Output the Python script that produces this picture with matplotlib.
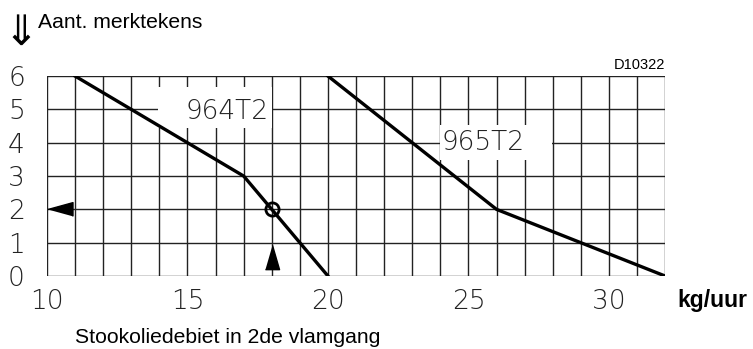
import matplotlib.pyplot as plt
from matplotlib.patches import Rectangle

# Data
x_964 = [11, 17, 20]
y_964 = [6, 3, 0]
x_965 = [20, 26, 32]
y_965 = [6, 2, 0]
x_ticks = [10, 15, 20, 25, 30]
y_ticks = [0, 1, 2, 3, 4, 5, 6]
op_x, op_y = 18, 2

fig = plt.figure(figsize=(7.53, 3.49), dpi=100)
ax = fig.add_axes([0.0624, 0.209, 0.821, 0.573])

ax.set_xlim(10, 32)
ax.set_ylim(0, 6)

# Grid lines every unit
for gx in range(10, 33):
    ax.axvline(gx, color='#222222', lw=1.0, zorder=1)
for gy in range(0, 7):
    ax.axhline(gy, color='#222222', lw=1.0, zorder=1)

# white boxes behind the curve labels
ax.add_patch(Rectangle((13.95, 4.44), 4.05, 1.24, fc='white', ec='none', zorder=2))
ax.add_patch(Rectangle((23.99, 3.48), 3.98, 1.05, fc='white', ec='none', zorder=2))

ax.plot(x_964, y_964, color='black', lw=2.4, zorder=3)
ax.plot(x_965, y_965, color='black', lw=2.4, zorder=3)

ax.text(16.42, 4.95, '964T2', fontsize=19, fontweight='light', color='#222222',
        ha='center', va='center', zorder=2.5)
ax.text(25.52, 4.0, '965T2', fontsize=19, fontweight='light', color='#222222',
        ha='center', va='center', zorder=2.5)

# Operating point and arrows
ax.plot(op_x, op_y, 'o', mfc='none', mec='black', ms=9.5, mew=2, zorder=4)
left_tri = [(-1, 0), (1, 0.55), (1, -0.55)]
up_tri = [(0, 1), (0.58, -1), (-0.58, -1)]
ax.plot(10.46, op_y, marker=left_tri, color='black', ms=18, zorder=4, clip_on=False)
ax.plot(op_x, 0.57, marker=up_tri, color='black', ms=17.5, zorder=4)

for s in ax.spines.values():
    s.set_visible(False)
ax.set_xticks(x_ticks)
ax.set_yticks(y_ticks)
ax.tick_params(length=0, labelsize=19, colors='#222222')
ax.tick_params(axis='x', pad=9)
ax.tick_params(axis='y', pad=16)
for lab in ax.get_xticklabels() + ax.get_yticklabels():
    lab.set_fontweight('light')

sans = ['Liberation Sans', 'DejaVu Sans']
fig.text(0.883, 0.813, 'D10322', fontsize=10.5, family=sans, ha='right', va='center')
fig.text(0.899, 0.14, 'kg/uur', fontsize=16.5, family=sans, fontweight='bold', ha='left', va='center')
fig.text(0.1, 0.032, 'Stookoliedebiet in 2de vlamgang', fontsize=15.2, family=sans,
         ha='left', va='center')
fig.text(0.05, 0.935, 'Aant. merktekens', fontsize=15.2, family=sans, ha='left', va='center')
fig.text(0.028, 0.905, '\u21d3', fontsize=30, family=['DejaVu Sans'], ha='center', va='center')

fig.savefig('out.png', dpi=100)
